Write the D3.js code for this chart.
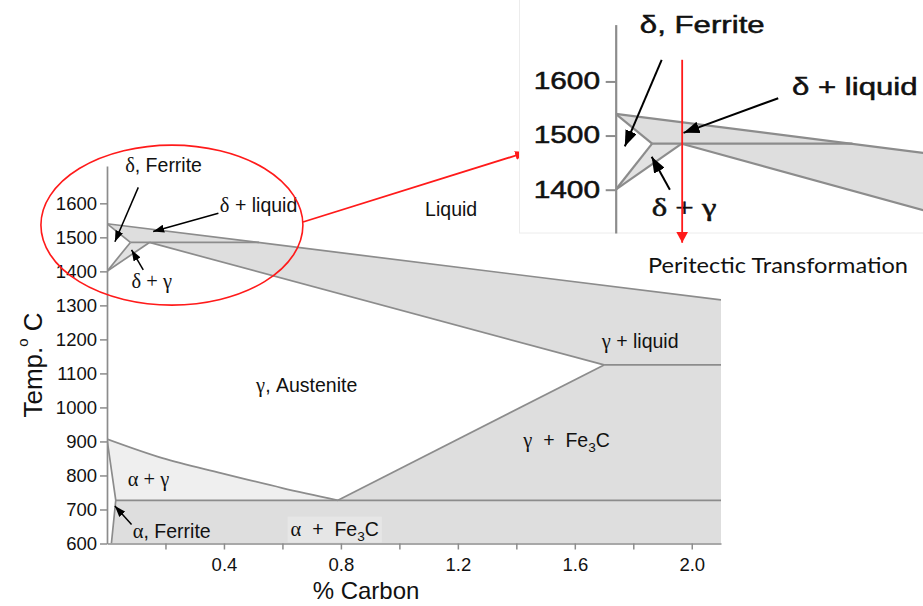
<!DOCTYPE html>
<html>
<head>
<meta charset="utf-8">
<script src="https://cdn.jsdelivr.net/npm/d3@7"></script>
<style>
  body { margin: 0; background: #fff; }
  svg { display: block; }
  text { white-space: pre; }
  .sans { font-family: "Liberation Sans", Arial, sans-serif; }
  .serif { font-family: "Liberation Serif", "Times New Roman", serif; }
</style>
</head>
<body>
<svg id="chart" width="923" height="606"></svg>
<script>
// phase boundaries, [% carbon, temperature °C]
const liquidus = [[0, 1540], [2.1, 1316]];
const solidus = [[0.145, 1485], [1.70, 1125]];
const deltaLiquid = [[0, 1540], [0.08, 1485]];
const deltaSolvus = [[0.08, 1485], [0, 1400]];
const gammaDelta = [[0, 1400], [0.145, 1485]];
const peritectic = [[0.08, 1485], [0.52, 1485]];
const eutectic = [[1.70, 1125], [2.1, 1125]];
const acm = [[0.79, 727], [1.70, 1125]];
const a3 = [[0, 907], [0.19, 851], [0.39, 807], [0.6, 763], [0.79, 727]];
const eutectoid = [[0.03, 727], [2.1, 727]];
const alphaSolvus = [[0, 907], [0.03, 727], [0.015, 600]];

// ticks
const yTicks = [600, 700, 800, 900, 1000, 1100, 1200, 1300, 1400, 1500, 1600];
const xTicks = [0.2, 0.4, 0.6, 0.8, 1.0, 1.2, 1.4, 1.6, 1.8, 2.0];
const xTickLabels = ["", "0.4", "", "0.8", "", "1.2", "", "1.6", "", "2.0"];
const insetTicks = [1400, 1500, 1600];

// annotations, anchored in [% carbon, °C]
const mainLabels = [
  { at: [0.062, 1693], parts: [["δ", "serif"], [", Ferrite"]] },
  { at: [0.386, 1575], parts: [["δ", "serif"], [" + liquid"]] },
  { at: [0.084, 1350], parts: [["δ + γ", "serif"]] },
  { at: [1.088, 1563], parts: [["Liquid"]] },
  { at: [0.51, 1046], parts: [["γ", "serif"], [", Austenite"]] },
  { at: [1.692, 1174], parts: [["γ", "serif"], [" + liquid"]] },
  { at: [1.424, 885], parts: [["γ", "serif"], ["  +  Fe"], ["3", "sub"], ["C"]] },
  { at: [0.071, 769], parts: [["α + γ", "serif"]] },
  { at: [0.088, 617], parts: [["α", "serif"], [", Ferrite"]] },
  { at: [0.628, 623], parts: [["α", "serif"], ["  +  Fe"], ["3", "sub"], ["C"]], box: true }
];
const mainArrows = [
  [[0.107, 1647], [0.027, 1487]],
  [[0.381, 1571], [0.158, 1517]],
  [[0.124, 1404], [0.084, 1463]],
  [[0.084, 656], [0.027, 710]]
];
const insetLabels = [
  { at: [0.053, 1690], parts: [["δ"], [", Ferrite"]] },
  { at: [0.387, 1575], parts: [["δ"], [" + liquid"]] },
  { at: [0.079, 1351], parts: [["δ + γ", "serif"]] }
];
const insetArrows = [
  [[0.101, 1640], [0.020, 1480]],
  [[0.357, 1569], [0.149, 1505]],
  [[0.119, 1400], [0.079, 1461]]
];
const peritecticArrow = [[0.146, 1640], [0.146, 1302]];

const svg = d3.select("#chart");
const grey = "#8c8c8c";

// markers
const defs = svg.append("defs");
function marker(id, w, h, color) {
  defs.append("marker")
    .attr("id", id)
    .attr("markerUnits", "userSpaceOnUse")
    .attr("markerWidth", w).attr("markerHeight", h)
    .attr("refX", w).attr("refY", h / 2)
    .attr("orient", "auto")
    .append("path")
    .attr("d", `M0,0L${w},${h / 2}L0,${h}Z`)
    .attr("fill", color);
}
marker("ahMain", 11, 8, "#000");
marker("ahInset", 16, 12, "#000");
marker("ahRed", 12, 9, "#ff1a1a");
marker("ahRedV", 11, 12, "#ff1a1a");

// main scales
const x = d3.scaleLinear().domain([0, 2.1]).range([107, 721]);
const y = d3.scaleLinear().domain([600, 1710]).range([543.5, 165.9]);

function drawPhases(g, sx, sy, lw) {
  const line = d3.line().x(d => sx(d[0])).y(d => sy(d[1]));
  const smooth = d3.line().x(d => sx(d[0])).y(d => sy(d[1])).curve(d3.curveCatmullRom);

  const mushy = liquidus.concat([eutectic[1]], solidus.slice().reverse(), [peritectic[0]]);
  const deltaGamma = deltaSolvus.slice().reverse().concat([gammaDelta[1]]);
  const gammaFe3C = acm.concat([eutectic[1], [eutectic[1][0], eutectoid[0][1]]]);
  const alphaFe3C = [eutectoid[0], eutectoid[1], [eutectoid[1][0], 600], alphaSolvus[2]];

  g.append("path").attr("d", line(mushy) + "Z").attr("fill", "#dedede");
  g.append("path").attr("d", line(deltaGamma) + "Z").attr("fill", "#e2e2e2");
  g.append("path").attr("d", line(gammaFe3C) + "Z").attr("fill", "#dedede");
  g.append("path").attr("d", line(alphaFe3C) + "Z").attr("fill", "#dedede");
  g.append("path")
    .attr("d", smooth(a3) + "L" + sx(alphaSolvus[1][0]) + "," + sy(alphaSolvus[1][1]) + "Z")
    .attr("fill", "#efefef");

  [liquidus, solidus, deltaLiquid, deltaSolvus, gammaDelta, peritectic,
   eutectic, acm, eutectoid, alphaSolvus].forEach(b => {
    g.append("path").attr("d", line(b))
      .attr("fill", "none").attr("stroke", grey).attr("stroke-width", lw);
  });
  g.append("path").attr("d", smooth(a3))
    .attr("fill", "none").attr("stroke", grey).attr("stroke-width", lw);
}

function addLabel(g, pos, parts, size, stretch) {
  const t = g.append("text")
    .attr("class", "sans")
    .attr("font-size", size)
    .attr("fill", "#111")
    .attr("transform", `translate(${pos[0]},${pos[1]}) scale(${stretch},1)`);
  let shifted = false;
  parts.forEach(p => {
    const s = t.append("tspan").text(p[0]);
    if (p[1] === "serif") s.attr("class", "serif").attr("font-size", size * 1.05);
    if (p[1] === "sub") { s.attr("font-size", size * 0.7).attr("dy", size * 0.28); shifted = true; }
    else if (shifted) { s.attr("dy", -size * 0.28); shifted = false; }
  });
  return t;
}

// ---------- main chart ----------
const main = svg.append("g");
defs.append("clipPath").attr("id", "clipMain")
  .append("rect").attr("x", x(0)).attr("y", y(1710))
  .attr("width", x(2.1) - x(0)).attr("height", y(600) - y(1710));
drawPhases(main.append("g").attr("clip-path", "url(#clipMain)"), x, y, 1.7);

const yAxis = main.append("g")
  .attr("transform", `translate(${x(0)},0)`)
  .call(d3.axisLeft(y).tickValues(yTicks).tickSize(7).tickPadding(3).tickSizeOuter(0)
    .tickFormat(d3.format("d")));
const xAxis = main.append("g")
  .attr("transform", `translate(0,${y(600)})`)
  .call(d3.axisBottom(x).tickValues(xTicks).tickSize(6).tickPadding(8).tickSizeOuter(0)
    .tickFormat((d, i) => xTickLabels[i]));
[yAxis, xAxis].forEach(a => {
  a.select(".domain").attr("stroke", grey).attr("stroke-width", 1.7);
  a.selectAll(".tick line").attr("stroke", grey).attr("stroke-width", 1.5);
  a.selectAll(".tick text").attr("class", "sans").attr("font-size", 18.5).attr("fill", "#111");
});

mainLabels.forEach(l => {
  const t = addLabel(main, [x(l.at[0]), y(l.at[1])], l.parts, 19.5, 1);
  if (l.box) {
    const b = t.node().getBBox();
    main.insert("rect", () => t.node())
      .attr("x", x(l.at[0]) - 3).attr("y", y(l.at[1]) + b.y - 1)
      .attr("width", b.width + 6).attr("height", y(600) - (y(l.at[1]) + b.y))
      .attr("fill", "#e6e6e6");
  }
});

mainArrows.forEach(a => {
  main.append("line")
    .attr("x1", x(a[0][0])).attr("y1", y(a[0][1]))
    .attr("x2", x(a[1][0])).attr("y2", y(a[1][1]))
    .attr("stroke", "#000").attr("stroke-width", 1.5)
    .attr("marker-end", "url(#ahMain)");
});

main.append("text").attr("class", "sans")
  .attr("font-size", 24).attr("fill", "#111")
  .attr("x", 366).attr("y", 599).attr("text-anchor", "middle")
  .text("% Carbon");

const yTitle = main.append("text").attr("class", "sans")
  .attr("font-size", 26).attr("fill", "#111")
  .attr("text-anchor", "middle")
  .attr("transform", "translate(42,365) rotate(-90)");
yTitle.append("tspan").text("Temp.");
yTitle.append("tspan").text("o").attr("font-size", 15).attr("dy", -14).attr("dx", 0);
yTitle.append("tspan").text(" C").attr("dy", 14);

// red highlight
main.append("ellipse")
  .attr("cx", x(0.222)).attr("cy", y(1536)).attr("rx", 131).attr("ry", 80)
  .attr("fill", "none").attr("stroke", "#ff1a1a").attr("stroke-width", 1.6);
main.append("line")
  .attr("x1", 303).attr("y1", 222).attr("x2", 527).attr("y2", 152)
  .attr("stroke", "#ff1a1a").attr("stroke-width", 1.8)
  .attr("marker-end", "url(#ahRed)");

// ---------- inset (zoom on the peritectic corner) ----------
const inset = svg.append("g");
const xi = d3.scaleLinear().domain([0, 0.675]).range([615.7, 923]);
const yi = d3.scaleLinear().domain([1320, 1705]).range([233, 24.6]);

inset.append("rect").attr("x", 519.5).attr("y", -2).attr("width", 410).attr("height", 235)
  .attr("fill", "#fff").attr("stroke", "#ececec");
defs.append("clipPath").attr("id", "clipInset")
  .append("rect").attr("x", xi(0)).attr("y", 0)
  .attr("width", xi(0.675) - xi(0)).attr("height", yi(1320));
drawPhases(inset.append("g").attr("clip-path", "url(#clipInset)"), xi, yi, 2.2);

const yiAxis = inset.append("g")
  .attr("transform", `translate(${xi(0)},0)`)
  .call(d3.axisLeft(yi).tickValues(insetTicks).tickSize(10).tickPadding(2).tickSizeOuter(0)
    .tickFormat(d3.format("d")));
yiAxis.select(".domain").attr("stroke", grey).attr("stroke-width", 2.2);
yiAxis.selectAll(".tick line").attr("stroke", grey).attr("stroke-width", 2);
yiAxis.selectAll(".tick text").attr("class", "sans").attr("font-size", 23)
  .attr("fill", "#111").attr("stroke", "#111").attr("stroke-width", 0.5)
  .attr("transform", "scale(1.3,1)");

insetLabels.forEach(l => {
  addLabel(inset, [xi(l.at[0]), yi(l.at[1])], l.parts, 24, 1.3)
    .attr("stroke", "#111").attr("stroke-width", 0.5);
});

insetArrows.forEach(a => {
  inset.append("line")
    .attr("x1", xi(a[0][0])).attr("y1", yi(a[0][1]))
    .attr("x2", xi(a[1][0])).attr("y2", yi(a[1][1]))
    .attr("stroke", "#000").attr("stroke-width", 2)
    .attr("marker-end", "url(#ahInset)");
});

inset.append("line")
  .attr("x1", xi(peritecticArrow[0][0])).attr("y1", yi(peritecticArrow[0][1]))
  .attr("x2", xi(peritecticArrow[1][0])).attr("y2", yi(peritecticArrow[1][1]))
  .attr("stroke", "#ff1a1a").attr("stroke-width", 1.8)
  .attr("marker-end", "url(#ahRedV)");

inset.append("text")
  .attr("font-family", "Lato, 'Open Sans', sans-serif")
  .attr("font-size", 21).attr("fill", "#111")
  .attr("x", xi(0.071)).attr("y", yi(1247))
  .attr("textLength", 260).attr("lengthAdjust", "spacingAndGlyphs")
  .text("Peritectic Transformation");
</script>
</body>
</html>
